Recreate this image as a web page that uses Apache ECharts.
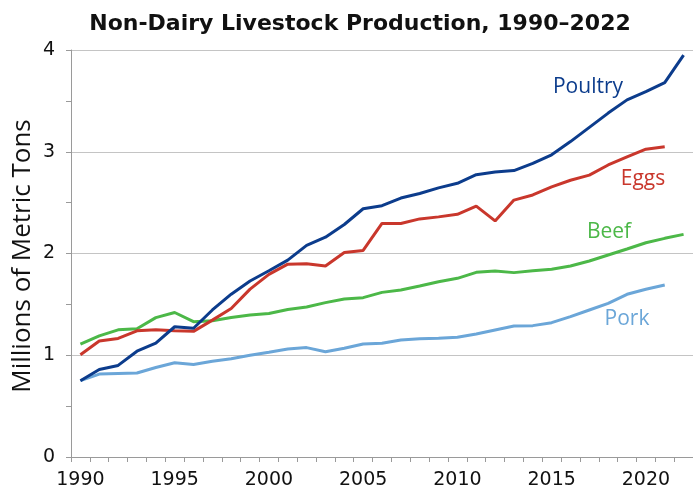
<!DOCTYPE html>
<html>
<head>
<meta charset="utf-8">
<script src="https://cdn.jsdelivr.net/npm/echarts@6/dist/echarts.min.js"></script>
<style>
  html, body { margin: 0; padding: 0; background: #fff; }
  #chart { width: 693px; height: 492px; }
</style>
</head>
<body>
<div id="chart"></div>
<script>
// years on the x axis
const years = [];
for (let y = 1990; y <= 2022; y++) years.push(String(y));

// millions of metric tons
const poultry = [0.75, 0.86, 0.90, 1.04, 1.12, 1.28, 1.265, 1.445, 1.60, 1.73,
  1.83, 1.935, 2.08, 2.16, 2.285, 2.44, 2.47, 2.545, 2.59, 2.645,
  2.69, 2.775, 2.80, 2.815, 2.885, 2.97, 3.10, 3.24, 3.38, 3.51,
  3.59, 3.68, 3.95];
const eggs = [1.005, 1.14, 1.165, 1.24, 1.25, 1.24, 1.235, 1.345, 1.46, 1.65,
  1.795, 1.895, 1.90, 1.877, 2.01, 2.03, 2.295, 2.295, 2.34, 2.36,
  2.385, 2.465, 2.32, 2.525, 2.575, 2.655, 2.72, 2.77, 2.87, 2.95,
  3.025, 3.05];
const beef = [1.11, 1.19, 1.25, 1.26, 1.37, 1.42, 1.33, 1.34, 1.37, 1.395,
  1.41, 1.45, 1.474, 1.517, 1.553, 1.566, 1.618, 1.641, 1.68, 1.723,
  1.756, 1.815, 1.828, 1.812, 1.831, 1.845, 1.877, 1.926, 1.985, 2.044,
  2.106, 2.149, 2.188];
const pork = [0.75, 0.815, 0.82, 0.825, 0.88, 0.926, 0.91, 0.94, 0.965, 1.0,
  1.03, 1.061, 1.075, 1.035, 1.068, 1.111, 1.117, 1.15, 1.163, 1.166,
  1.176, 1.209, 1.248, 1.287, 1.291, 1.32, 1.379, 1.445, 1.51, 1.599,
  1.648, 1.69];

const seriesNames = ['Poultry', 'Eggs', 'Beef', 'Pork'];
const seriesData = [poultry, eggs, beef, pork];
const colors = ['#0c3c8c', '#c9372c', '#4cb848', '#6ba6d8'];
// where each series name sits (centre of text)
const labelPos = [[588, 87], [643, 179], [609, 232], [627, 319]];

const chart = echarts.init(document.getElementById('chart'));

const labels = seriesNames.map((name, i) => ({
  type: 'text',
  x: labelPos[i][0],
  y: labelPos[i][1],
  style: {
    text: name,
    fill: colors[i],
    fontSize: 21,
    fontFamily: 'Open Sans',
    textAlign: 'center',
    textVerticalAlign: 'middle'
  }
}));

// axis title, placed by hand so it sits where the original has it
labels.push({
  type: 'text',
  x: 23,
  y: 256,
  rotation: Math.PI / 2,
  style: {
    text: 'Millions of Metric Tons',
    fill: '#111',
    fontSize: 26,
    fontFamily: 'Open Sans',
    textAlign: 'center',
    textVerticalAlign: 'middle'
  }
});

chart.setOption({
  animation: false,
  title: {
    text: 'Non-Dairy Livestock Production, 1990\u20132022',
    left: 355,
    top: 8,
    textAlign: 'center',
    textStyle: { fontFamily: 'DejaVu Sans', fontWeight: 'bold', fontSize: 22, color: '#111' }
  },
  grid: { left: 71, top: 50, width: 624, height: 407 },
  xAxis: {
    type: 'category',
    data: years,
    boundaryGap: true,
    axisLine: { lineStyle: { color: '#9a9a9a', width: 1 } },
    axisTick: { show: true, interval: 0, length: 5, lineStyle: { color: '#9a9a9a' } },
    axisLabel: { interval: 4, fontSize: 19, margin: 14, color: '#111', fontFamily: 'DejaVu Sans' }
  },
  yAxis: {
    type: 'value',
    min: 0,
    max: 4,
    interval: 1,
    axisLine: { show: true, lineStyle: { color: '#9a9a9a', width: 1 } },
    axisTick: { show: true, length: 5, lineStyle: { color: '#9a9a9a' } },
    minorTick: { show: true, splitNumber: 2, length: 5, lineStyle: { color: '#9a9a9a' } },
    axisLabel: { fontSize: 19, margin: 16, color: '#111', fontFamily: 'DejaVu Sans' },
    splitLine: { lineStyle: { color: '#c4c4c4', width: 1 } }
  },
  series: seriesNames.map((name, i) => ({
    name: name,
    type: 'line',
    data: seriesData[i],
    symbol: 'none',
    lineStyle: { width: 3, color: colors[i] },
    itemStyle: { color: colors[i] },
    z: 10 - i
  })),
  graphic: labels
});
</script>
</body>
</html>
